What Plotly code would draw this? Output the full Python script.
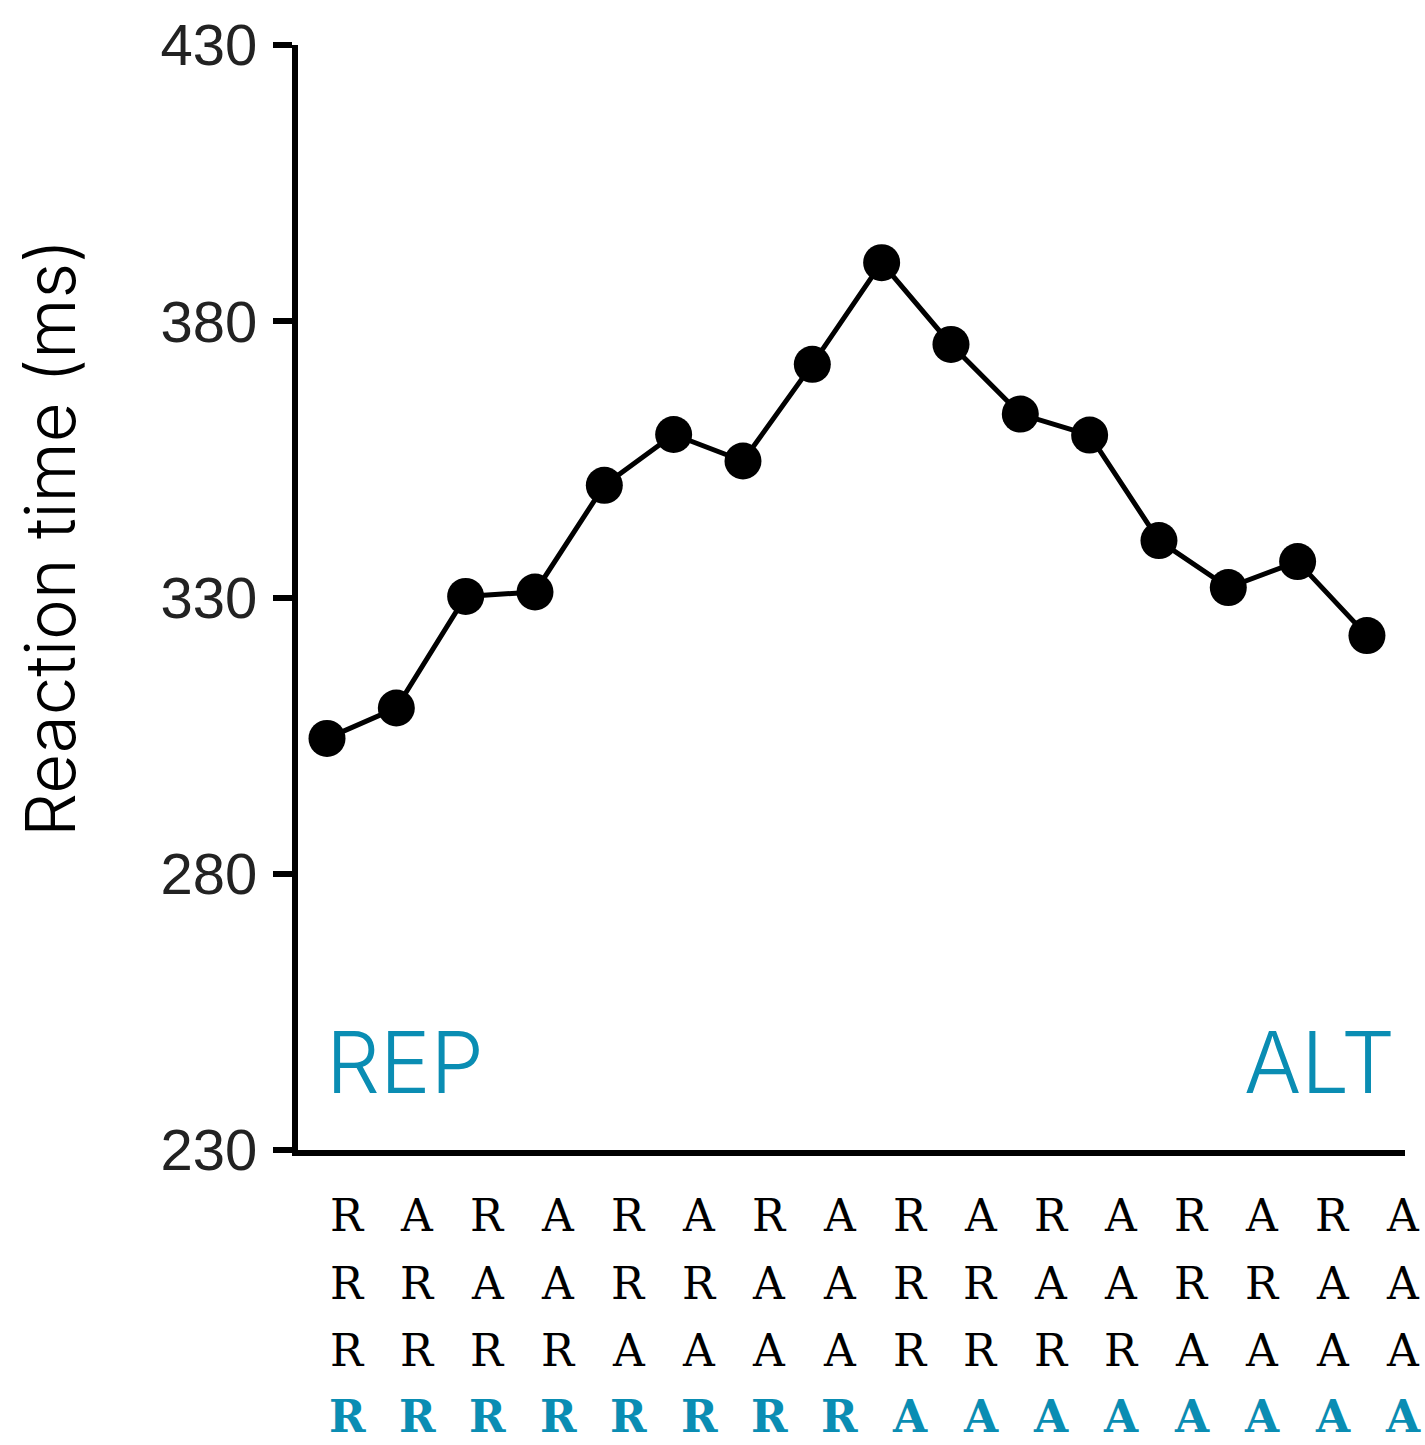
import plotly.graph_objects as go

# ---------------- data ----------------
conditions = list(range(1, 17))
reaction_time = [304.5, 310.0, 330.2, 331.0, 350.3, 359.5, 354.7, 372.2,
                 390.6, 375.8, 363.2, 359.4, 340.3, 331.8, 336.5, 323.1]
row1 = ["R", "A"] * 8
row2 = ["R", "R", "A", "A"] * 4
row3 = ["R"] * 4 + ["A"] * 4 + ["R"] * 4 + ["A"] * 4
row4 = ["R"] * 8 + ["A"] * 8
y_ticks = [230, 280, 330, 380, 430]
left_label = "REP"
right_label = "ALT"
y_title = "Reaction time (ms)"

# ---------------- layout constants (pixels) ----------------
W, H = 1425, 1445
L, R, T, B = 298, 20, 42, 295
PW, PH = W - L - R, H - T - B
BLUE = "#0a8db3"
FIRST_PX, STEP_PX = 327, 69.33   # pixel of first point, spacing between points


def px_x(p):
    return (p - L) / PW


def px_y(p):
    return (H - B - p) / PH


fig = go.Figure()
fig.add_trace(go.Scatter(
    x=conditions, y=reaction_time, mode="lines+markers",
    line=dict(color="black", width=5),
    marker=dict(color="black", size=37, symbol="circle"),
    showlegend=False, cliponaxis=False,
))

annotations = []
# letter rows beneath the axis
rows = [row1, row2, row3, row4]
row_y = [1216, 1284, 1351, 1417]
col0, dcol = 347, 70.4
for r, (letters, yp) in enumerate(zip(rows, row_y)):
    last = r == len(rows) - 1
    for i, ch in enumerate(letters):
        annotations.append(dict(
            text=f"<b>{ch}</b>" if last else ch,
            xref="paper", yref="paper",
            x=px_x(col0 + dcol * i), y=px_y(yp),
            xanchor="center", yanchor="middle", showarrow=False,
            font=dict(family="DejaVu Serif", size=44,
                      color=BLUE if last else "black"),
        ))

annotations.append(dict(
    text=left_label, xref="paper", yref="paper",
    x=px_x(324), y=px_y(1062), xanchor="left", yanchor="middle",
    showarrow=False,
    font=dict(family="Inter", size=85, color=BLUE, weight=300),
))
annotations.append(dict(
    text=right_label, xref="paper", yref="paper",
    x=px_x(1397), y=px_y(1062), xanchor="right", yanchor="middle",
    showarrow=False,
    font=dict(family="Inter", size=85, color=BLUE, weight=300),
))
annotations.append(dict(
    text=y_title, xref="paper", yref="paper",
    x=px_x(50), y=px_y(536), xanchor="center", yanchor="middle",
    textangle=-90, showarrow=False,
    font=dict(family="Inter", size=69, color="black", weight=300),
))

x_lo = conditions[0] - (FIRST_PX - L) / STEP_PX
x_hi = x_lo + PW / STEP_PX

fig.update_layout(
    width=W, height=H,
    margin=dict(l=L, r=R, t=T, b=B),
    paper_bgcolor="white", plot_bgcolor="white",
    annotations=annotations,
    xaxis=dict(
        range=[x_lo, x_hi],
        showgrid=False, zeroline=False, showticklabels=False, ticks="",
        showline=True, linecolor="black", linewidth=6,
    ),
    yaxis=dict(
        range=[230, 430], tickvals=y_ticks,
        ticktext=[str(v) for v in y_ticks],
        showgrid=False, zeroline=False,
        showline=True, linecolor="black", linewidth=6,
        ticks="outside", ticklen=19, tickwidth=6, tickcolor="black",
        ticklabelstandoff=4,
        tickfont=dict(family="Liberation Sans", size=58, color="#222222"),
    ),
)

fig.write_html("out.html")
